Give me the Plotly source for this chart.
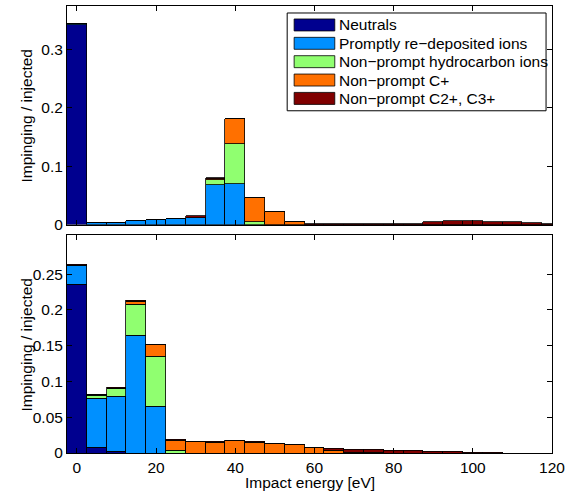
import plotly.graph_objects as go
from plotly.subplots import make_subplots

# bin centres (eV), width 5
energy = [0, 5, 10, 15, 20, 25, 30, 35, 40, 45, 50, 55, 60, 65, 70, 75, 80, 85, 90, 95, 100, 105, 110, 115, 120]

series_names = ["Neutrals", "Promptly re\u2212deposited ions", "Non\u2212prompt hydrocarbon ions",
                "Non\u2212prompt C+", "Non\u2212prompt C2+, C3+"]
series_colors = ["#00008F", "#0090FF", "#90FF70", "#FF7000", "#800000"]

# top panel
top_neutral = [0.342, 0, 0, 0, 0, 0, 0, 0, 0, 0, 0, 0, 0, 0, 0, 0, 0, 0, 0, 0, 0, 0, 0, 0, 0]
top_prompt = [0.002, 0.0034, 0.0034, 0.0055, 0.0075, 0.0095, 0.011, 0.068, 0.0697, 0, 0, 0, 0, 0, 0, 0, 0, 0, 0, 0, 0, 0, 0, 0, 0]
top_hydro = [0, 0, 0, 0, 0, 0, 0.001, 0.0086, 0.0686, 0.0046, 0, 0, 0, 0, 0, 0, 0, 0, 0, 0, 0, 0, 0, 0, 0]
top_cplus = [0, 0, 0, 0, 0, 0, 0, 0.0008, 0.0428, 0.0411, 0.021, 0.0045, 0, 0, 0, 0, 0, 0, 0, 0, 0, 0, 0, 0, 0]
top_c23 = [0, 0, 0, 0.0005, 0.0005, 0.0005, 0.002, 0.002, 0, 0, 0, 0, 0.0002, 0.0002, 0.0002, 0.0002, 0.0003,
           0.0017, 0.004, 0.0055, 0.0055, 0.0048, 0.0036, 0.0018, 0.001]

# bottom panel
bot_neutral = [0.236, 0.008, 0.0015, 0, 0, 0, 0, 0, 0, 0, 0, 0, 0, 0, 0, 0, 0, 0, 0, 0, 0, 0, 0, 0, 0]
bot_prompt = [0.026, 0.068, 0.078, 0.164, 0.0648, 0, 0, 0, 0, 0, 0, 0, 0, 0, 0, 0, 0, 0, 0, 0, 0, 0, 0, 0, 0]
bot_hydro = [0, 0.0047, 0.0107, 0.044, 0.0695, 0.003, 0, 0, 0, 0, 0, 0, 0, 0, 0, 0, 0, 0, 0, 0, 0, 0, 0, 0, 0]
bot_cplus = [0, 0.0007, 0, 0.0041, 0.0171, 0.0145, 0.0155, 0.0148, 0.017, 0.0148, 0.0128, 0.0115, 0.0072,
             0.0032, 0.0008, 0.0003, 0, 0, 0, 0, 0, 0, 0, 0, 0]
bot_c23 = [0.0015, 0.0007, 0.001, 0.001, 0, 0.0015, 0.001, 0.0007, 0.001, 0.0007, 0.0008, 0.0005, 0.0008,
           0.0038, 0.0048, 0.0047, 0.004, 0.003, 0.0023, 0.0018, 0.0012, 0.001, 0, 0, 0]

top_series = [top_neutral, top_prompt, top_hydro, top_cplus, top_c23]
bot_series = [bot_neutral, bot_prompt, bot_hydro, bot_cplus, bot_c23]

W, H = 570, 499
L, R, T, B = 67, 14, 5, 46
PW, PH = W - L - R, H - T - B


def px(xp):
    return (xp - L) / PW


def py(yp):
    return (H - B - yp) / PH


fig = make_subplots(rows=2, cols=1, vertical_spacing=0.0)
for row, data in ((1, top_series), (2, bot_series)):
    for name, col, vals in zip(series_names, series_colors, data):
        fig.add_trace(go.Bar(x=energy, y=vals, name=name, width=5,
                             marker=dict(color=col, line=dict(color="#000000", width=0.8)),
                             showlegend=False), row=row, col=1)

font = dict(family="Liberation Sans, Arial, sans-serif", size=15.5, color="#000000")
fig.update_layout(barmode="stack", bargap=0, width=W, height=H,
                  margin=dict(l=L, r=R, t=T, b=B),
                  paper_bgcolor="white", plot_bgcolor="white", font=font)

axis_common = dict(showline=True, linecolor="#000000", linewidth=1, mirror="ticks",
                   ticks="inside", ticklen=5, tickcolor="#000000", showgrid=False, zeroline=False)
fig.update_xaxes(range=[-2.5, 120], tickvals=[0, 20, 40, 60, 80, 100, 120], **axis_common)
fig.update_xaxes(showticklabels=False, row=1, col=1)
fig.update_yaxes(**axis_common)
fig.update_yaxes(range=[0, 0.375], tickvals=[0, 0.1, 0.2, 0.3], domain=[py(224), py(5)], row=1, col=1)
fig.update_yaxes(range=[0, 0.304], tickvals=[0, 0.05, 0.1, 0.15, 0.2, 0.25], domain=[py(453), py(235)], row=2, col=1)

annotations = [
    dict(text="Impinging / injected", x=px(26), y=py(114.5), textangle=-90),
    dict(text="Impinging / injected", x=px(26), y=py(344), textangle=-90),
    dict(text="Impact energy [eV]", x=px(312), y=py(483)),
]
for a in annotations:
    fig.add_annotation(xref="paper", yref="paper", showarrow=False, xanchor="center", yanchor="middle",
                       font=font, **a)

# legend box drawn manually
fig.add_shape(type="rect", xref="paper", yref="paper", x0=px(289), x1=px(550), y0=py(110), y1=py(12),
              line=dict(color="#000000", width=1), fillcolor="white", layer="above")
row_y = [24, 42.4, 60.8, 79.2, 97.6]
for name, col, yc in zip(series_names, series_colors, row_y):
    fig.add_shape(type="rect", xref="paper", yref="paper", x0=px(296), x1=px(337), y0=py(yc + 6), y1=py(yc - 6),
                  line=dict(color="#000000", width=0.8), fillcolor=col, layer="above")
    fig.add_annotation(xref="paper", yref="paper", showarrow=False, xanchor="left", yanchor="middle",
                       x=px(339), y=py(yc), text=name, font=font)

fig.write_html("out.html", config={"displayModeBar": False},
               post_script="document.body.style.margin='0';document.body.style.overflow='hidden';")
